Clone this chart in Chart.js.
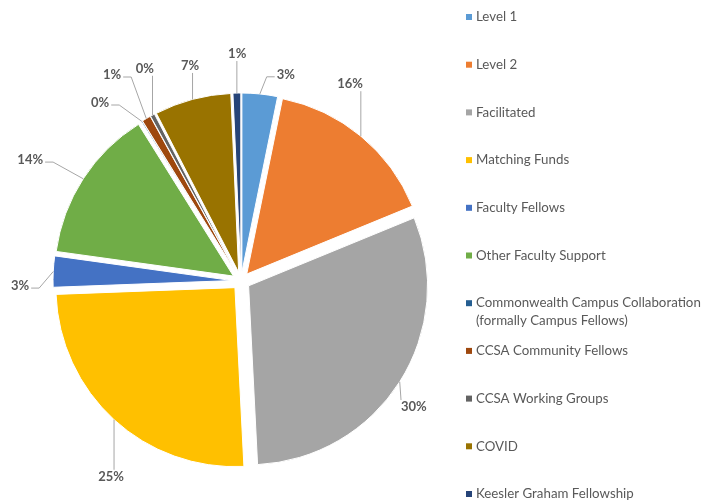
<!DOCTYPE html>
<html>
<head>
<meta charset="utf-8">
<script src="https://cdn.jsdelivr.net/npm/chart.js@4.4.1/dist/chart.umd.min.js"></script>
<style>
  html, body { margin: 0; padding: 0; background: #fff; }
</style>
</head>
<body>
<canvas id="pieChart" width="714" height="502"></canvas>
<script>
var categories = [
  'Level 1',
  'Level 2',
  'Facilitated',
  'Matching Funds',
  'Faculty Fellows',
  'Other Faculty Support',
  'Commonwealth Campus Collaboration\n(formally Campus Fellows)',
  'CCSA Community Fellows',
  'CCSA Working Groups',
  'COVID',
  'Keesler Graham Fellowship'
];
var shares = [3.2, 15.6, 30.4, 25.2, 2.8, 13.9, 0.1, 0.8, 0.4, 6.9, 0.7];
var sliceColors = ['#5B9BD5', '#ED7D31', '#A5A5A5', '#FFC000', '#4472C4', '#70AD47',
                   '#255E91', '#9E480E', '#636363', '#997300', '#264478'];

// where each percent label sits: turn (deg) from the slice middle, distance from centre
var labelTurn = [6.5, -10.6, 3.7, -8.9, -4.2, -3.1, -6.5, -1.8, 3.7, 1.6, 0.3];
var labelReach = [211, 225, 214, 235, 221, 243, 227, 243, 233, 221, 227];

var explode = 9;
var textGrey = '#595959';
var fontFamily = 'Lato, "Liberation Sans", sans-serif';

// pull every slice out a little (Excel style explosion) without growing small slices
var baseArcDraw = Chart.ArcElement.prototype.draw;
Chart.ArcElement.prototype.draw = function (ctx, area) {
  var mid = (this.startAngle + this.endAngle) / 2;
  ctx.save();
  ctx.translate(Math.cos(mid) * explode, Math.sin(mid) * explode);
  baseArcDraw.call(this, ctx, area);
  ctx.restore();
};

var pieLabels = {
  id: 'pieLabels',
  afterDatasetsDraw: function (chart) {
    var ctx = chart.ctx;
    var arcs = chart.getDatasetMeta(0).data;
    var total = shares.reduce(function (a, b) { return a + b; }, 0);
    ctx.save();
    ctx.font = 'bold 13px ' + fontFamily;
    ctx.textAlign = 'center';
    ctx.textBaseline = 'middle';
    ctx.strokeStyle = '#A6A6A6';
    ctx.lineWidth = 1;
    arcs.forEach(function (arc, i) {
      var mid = (arc.startAngle + arc.endAngle) / 2;
      var ex = arc.x + Math.cos(mid) * (explode + arc.outerRadius);
      var ey = arc.y + Math.sin(mid) * (explode + arc.outerRadius);
      var a = mid + labelTurn[i] * Math.PI / 180;
      var lx = arc.x + Math.cos(a) * labelReach[i];
      var ly = arc.y + Math.sin(a) * labelReach[i];
      var text = Math.round(shares[i] / total * 100) + '%';
      var hw = ctx.measureText(text).width / 2, hh = 7;
      var left = lx - hw, right = lx + hw;

      ctx.beginPath();
      if (ex >= left - 4 && ex <= right + 4) {
        var ax = Math.min(Math.max(ex, left), right);
        var ay = ey < ly ? ly - hh : ly + hh;
        if (Math.abs(ey - ay) > 6) {
          ctx.moveTo(ex, ey);
          ctx.lineTo(ax, ay);
        }
      } else {
        var side = ex > lx ? 1 : -1;
        var sx = lx + side * (hw + 2), sy = ly + 2;
        ctx.moveTo(ex, ey);
        ctx.lineTo(sx + side * 8, sy);
        ctx.lineTo(sx, sy);
      }
      ctx.stroke();

      ctx.fillStyle = textGrey;
      ctx.fillText(text, lx, ly);
    });
    ctx.restore();
  }
};

var sideLegend = {
  id: 'sideLegend',
  afterDraw: function (chart) {
    var ctx = chart.ctx;
    ctx.save();
    ctx.font = '13.3px ' + fontFamily;
    ctx.textBaseline = 'middle';
    ctx.textAlign = 'left';
    categories.forEach(function (name, i) {
      var y = 17 + i * 47.7;
      ctx.fillStyle = sliceColors[i];
      ctx.fillRect(466, y - 3, 6, 6);
      ctx.fillStyle = textGrey;
      name.split('\n').forEach(function (line, k) {
        ctx.fillText(line, 476, y + k * 18);
      });
    });
    ctx.restore();
  }
};

const ctx = document.getElementById('pieChart');

new Chart(ctx, {
  type: 'pie',
  data: {
    labels: categories,
    datasets: [{
      data: shares,
      backgroundColor: sliceColors,
      borderColor: '#ffffff',
      borderWidth: 1,
      radius: 179
    }]
  },
  options: {
    responsive: false,
    animation: false,
    layout: { padding: { left: 0, top: 60, right: 232, bottom: 0 } },
    plugins: {
      legend: { display: false },
      tooltip: { enabled: false }
    }
  },
  plugins: [pieLabels, sideLegend]
});
</script>
</body>
</html>
